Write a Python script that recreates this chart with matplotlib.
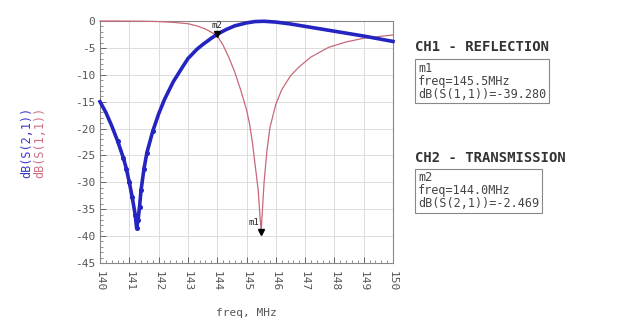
import matplotlib
matplotlib.use("Agg")
import matplotlib.pyplot as plt
from matplotlib.ticker import MultipleLocator

# ---- data ----
s21_freq = [140.0, 140.2, 140.4, 140.6, 140.8, 140.9, 141.0, 141.1, 141.2, 141.25,
            141.3, 141.35, 141.4, 141.5, 141.6, 141.8, 142.0, 142.2, 142.5, 142.8,
            143.0, 143.3, 143.5, 143.8, 144.0, 144.3, 144.6, 145.0, 145.3, 145.6,
            146.0, 146.5, 147.0, 147.5, 148.0, 148.5, 149.0, 149.5, 150.0]
s21_db = [-15.0, -17.0, -19.5, -22.3, -25.5, -27.5, -30.0, -32.8, -36.0, -38.5,
          -37.0, -34.5, -31.5, -27.5, -24.5, -20.5, -17.3, -14.6, -11.3, -8.7,
          -7.0, -5.3, -4.4, -3.2, -2.47, -1.6, -0.9, -0.35, -0.1, -0.05,
          -0.2, -0.55, -1.0, -1.45, -1.9, -2.35, -2.8, -3.3, -3.8]

s11_freq = [140.0, 140.5, 141.0, 141.5, 142.0, 142.5, 143.0, 143.3, 143.6, 143.8,
            144.0, 144.2, 144.4, 144.6, 144.8, 145.0, 145.1, 145.2, 145.3, 145.4,
            145.45, 145.5, 145.55, 145.6, 145.7, 145.8, 146.0, 146.2, 146.5, 146.8,
            147.2, 147.8, 148.4, 149.0, 149.5, 150.0]
s11_db = [0.0, 0.0, -0.02, -0.05, -0.1, -0.25, -0.5, -0.9, -1.5, -2.1,
          -2.7, -4.5, -6.8, -9.5, -12.8, -16.5, -19.0, -22.5, -27.0, -31.5,
          -35.5, -39.2, -34.5, -30.0, -24.0, -19.8, -15.5, -12.8, -10.2, -8.5,
          -6.7, -4.9, -3.9, -3.2, -2.9, -2.6]

x_ticks = [140, 141, 142, 143, 144, 145, 146, 147, 148, 149, 150]
y_ticks = [0, -5, -10, -15, -20, -25, -30, -35, -40, -45]

m1_freq, m1_val = 145.5, -39.2
m2_freq, m2_val = 144.0, -2.469

# ---- figure ----
fig = plt.figure(figsize=(6.28, 3.24), dpi=100)
ax = fig.add_axes([100/628, 61/324, 293/628, 242/324])
mono = "DejaVu Sans Mono"

ax.plot(s11_freq, s11_db, color="#c86878", lw=0.9, zorder=3, clip_on=False)
ax.plot(s21_freq, s21_db, color="#2424c0", lw=2.6, zorder=4, clip_on=False,
        marker="o", ms=2.6, markevery=list(range(3, 16)))

ax.set_xlim(140, 150)
ax.set_ylim(-45, 0)
ax.set_xticks(x_ticks)
ax.set_yticks(y_ticks)
ax.xaxis.set_minor_locator(MultipleLocator(0.2))
ax.yaxis.set_minor_locator(MultipleLocator(1))
ax.tick_params(which="both", direction="in", colors="#666666", labelcolor="#555555")
ax.tick_params(which="major", length=4, width=0.7)
ax.tick_params(which="minor", length=2, width=0.5)
ax.set_xticklabels([str(v) for v in x_ticks], rotation=-90, fontsize=8, family=mono)
ax.set_yticklabels([str(v) for v in y_ticks], fontsize=8, family=mono)
ax.tick_params(axis="x", pad=6)
ax.grid(True, which="major", color="#dcdcdc", lw=0.7)
for s in ax.spines.values():
    s.set_color("#888888")
    s.set_linewidth(0.8)

ax.set_xlabel("freq, MHz", fontsize=8, family=mono, color="#555555", labelpad=12)

# y labels (two traces)
fig.text(27/628, 1 - 142/324, "dB(S(2,1))", rotation=90, color="#3838c8", fontsize=8.5,
         family=mono, ha="center", va="center")
fig.text(40/628, 1 - 142/324, "dB(S(1,1))", rotation=90, color="#d07080", fontsize=8.5,
         family=mono, ha="center", va="center")

# markers
ax.plot([m1_freq], [m1_val], marker="v", color="black", ms=5, zorder=6)
ax.text(m1_freq - 0.05, m1_val + 1.2, "m1", fontsize=6.5, family=mono, ha="right", color="#222222")
ax.plot([m2_freq], [m2_val], marker="v", color="black", ms=5, zorder=6)
ax.text(m2_freq - 0.2, m2_val + 1.2, "m2", fontsize=6.5, family=mono, ha="left", color="#222222")

# right-side readouts
fig.text(415/628, 1 - 47/324, "CH1 - REFLECTION", fontsize=10, family=mono,
         weight="bold", color="#333333", va="center")
fig.text(418/628, 1 - 81/324, "m1\nfreq=145.5MHz\ndB(S(1,1))=-39.280", fontsize=8.5,
         family=mono, color="#444444", va="center", linespacing=1.0,
         bbox=dict(boxstyle="square,pad=0.25", fc="white", ec="#888888", lw=0.8))
fig.text(415/628, 1 - 158/324, "CH2 - TRANSMISSION", fontsize=10, family=mono,
         weight="bold", color="#333333", va="center")
fig.text(418/628, 1 - 191/324, "m2\nfreq=144.0MHz\ndB(S(2,1))=-2.469", fontsize=8.5,
         family=mono, color="#444444", va="center", linespacing=1.0,
         bbox=dict(boxstyle="square,pad=0.25", fc="white", ec="#888888", lw=0.8))

fig.savefig("out.png", dpi=100)
